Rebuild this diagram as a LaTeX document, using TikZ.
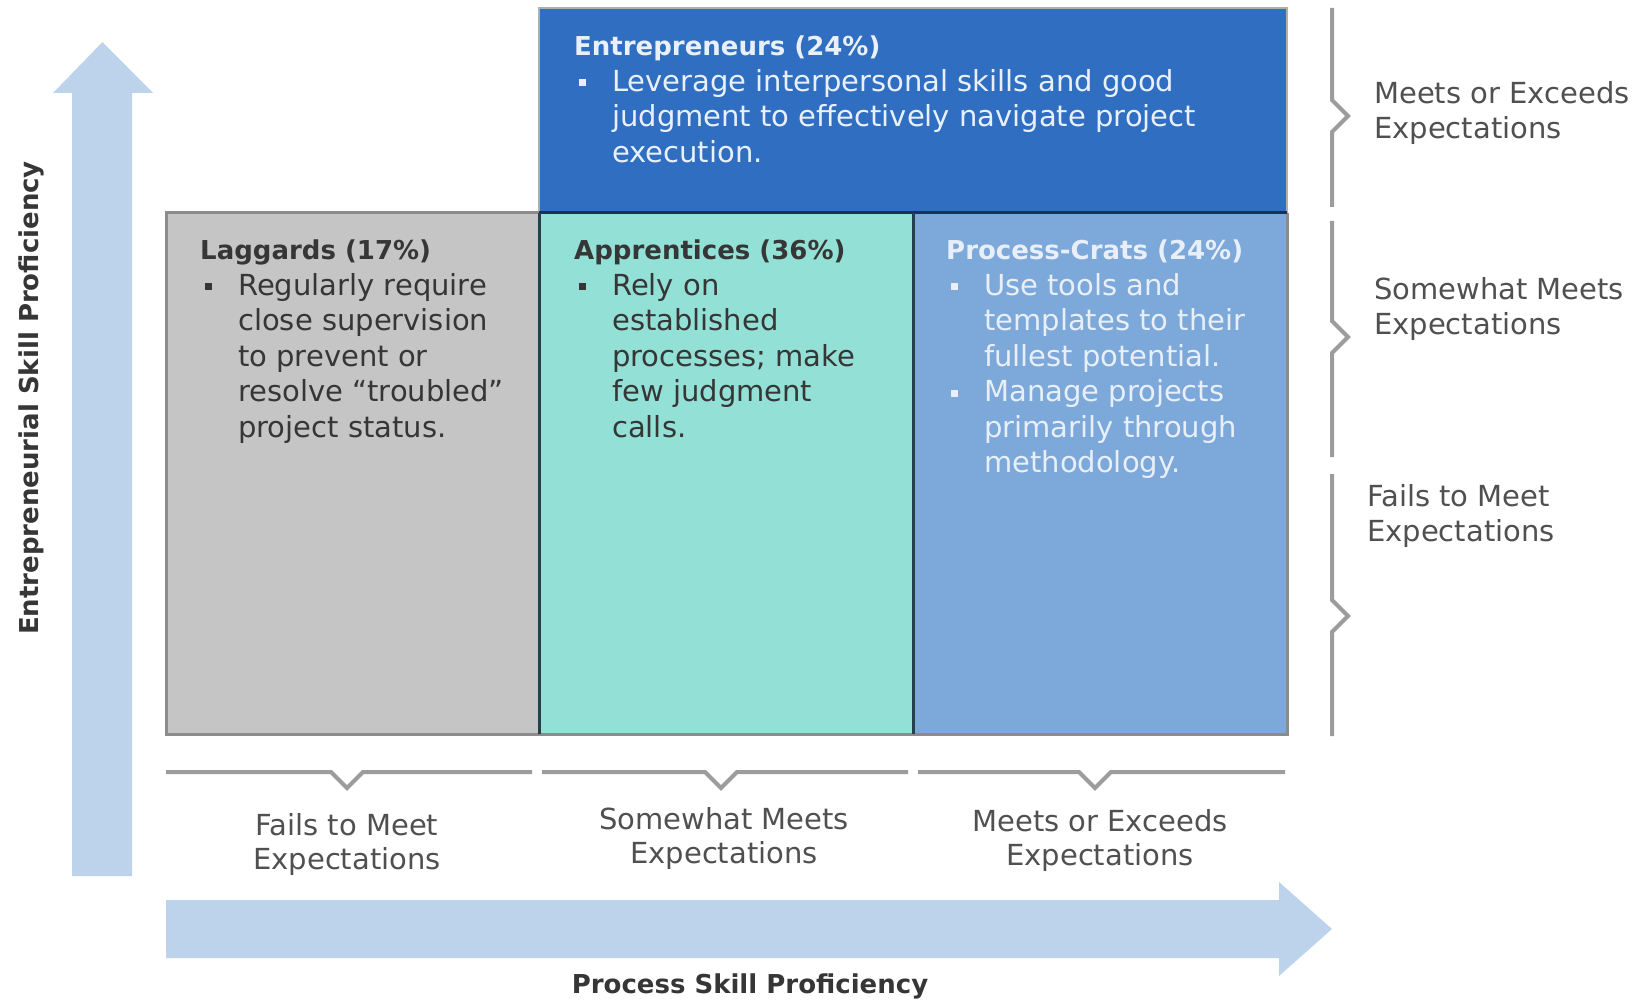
\documentclass[tikz,border=0pt]{standalone}
\usepackage{fontspec}
\setmainfont{DejaVu Sans}
\definecolor{entblue}{HTML}{2F6EC1}
\definecolor{appteal}{HTML}{93E0D7}
\definecolor{pcblue}{HTML}{7CA8DA}
\definecolor{laggray}{HTML}{C5C5C5}
\definecolor{arrowblue}{HTML}{BDD3EC}
\definecolor{brk}{HTML}{9C9C9C}
\definecolor{lbl}{HTML}{505050}
\definecolor{dtext}{HTML}{363636}
\definecolor{darkline}{HTML}{24404A}
\definecolor{navyline}{HTML}{1B2F5C}
\definecolor{edgegray}{HTML}{8C8C8C}
\newcommand{\hd}[1]{\multicolumn{2}{@{}l@{}}{\fontsize{26}{35.5}\selectfont\bfseries #1}}
\newcommand{\bsq}{\makebox[38pt][l]{\hspace*{5pt}\rule[5pt]{7pt}{7pt}}}
\begin{document}
\begin{tikzpicture}[x=1pt,y=-1pt,
  cell/.style={draw=none,inner sep=0,outer sep=0,anchor=north west},
  txt/.style={anchor=base west,inner sep=0,font=\fontsize{29}{35.5}\selectfont},
  lab/.style={inner sep=0,align=left,text=lbl,font=\fontsize{29}{35.5}\selectfont},
  clab/.style={inner sep=0,align=center,text=lbl,font=\fontsize{29}{34}\selectfont},
  brace/.style={draw=brk,line width=4pt,line join=miter},
  axis/.style={fill=arrowblue}]
\useasboundingbox (0,0) rectangle (1651,1000);
\fill[white] (0,0) rectangle (1651,1000);

% axis arrows
\fill[axis] (72,876) -- (72,93) -- (53,93) -- (102.5,42) -- (153,93) -- (132,93) -- (132,876) -- cycle;
\fill[axis] (166,900) -- (1279,900) -- (1279,882) -- (1332,929) -- (1279,976) -- (1279,958) -- (166,958) -- cycle;

% boxes
\node[cell,fill=entblue,minimum width=748pt,minimum height=205pt] (ent) at (539,8) {};
\node[cell,fill=laggray,minimum width=373pt,minimum height=521pt] (lag) at (166,213) {};
\node[cell,fill=appteal,minimum width=374pt,minimum height=521pt] (app) at (539,213) {};
\node[cell,fill=pcblue,minimum width=374pt,minimum height=521pt] (pc) at (913,213) {};

% borders
\draw[draw=edgegray!70,line width=2pt] (ent.south west) -- (ent.north west) -- (ent.north east) -- (ent.south east);
\draw[draw=edgegray,line width=3pt] (lag.north east) -- (lag.north west) -- (lag.south west) -- (pc.south east) -- (pc.north east);
\draw[draw=navyline,line width=3pt] (app.north west) -- (pc.north east);
\draw[draw=darkline,line width=3pt] (lag.north east) -- (lag.south east);
\draw[draw=darkline,line width=3pt] (app.north east) -- (app.south east);

% box texts
\node[txt,text=white!90!entblue] (entT) at (574,56) {\begin{tabular}[t]{@{}l@{}l@{}}\hd{Entrepreneurs (24\%)}\\
\bsq & Leverage interpersonal skills and good\\
 & judgment to effectively navigate project\\
 & execution.\end{tabular}};
\node[txt,text=dtext] (lagT) at (200,260) {\begin{tabular}[t]{@{}l@{}l@{}}\hd{Laggards (17\%)}\\
\bsq & Regularly require\\
 & close supervision\\
 & to prevent or\\
 & resolve “troubled”\\
 & project status.\end{tabular}};
\node[txt,text=dtext] (appT) at (574,260) {\begin{tabular}[t]{@{}l@{}l@{}}\hd{Apprentices (36\%)}\\
\bsq & Rely on\\
 & established\\
 & processes; make\\
 & few judgment\\
 & calls.\end{tabular}};
\node[txt,text=white!82!pcblue] (pcT) at (946,260) {\begin{tabular}[t]{@{}l@{}l@{}}\hd{Process-Crats (24\%)}\\
\bsq & Use tools and\\
 & templates to their\\
 & fullest potential.\\
\bsq & Manage projects\\
 & primarily through\\
 & methodology.\end{tabular}};

% right braces
\draw[brace] (1332,8) -- (1332,100) -- (1348,116) -- (1332,132) -- (1332,207);
\draw[brace] (1332,221) -- (1332,321) -- (1348,337) -- (1332,353) -- (1332,457);
\draw[brace] (1332,474) -- (1332,600) -- (1348,616) -- (1332,632) -- (1332,736);
\node[lab,anchor=west] (r1) at (1374,113) {Meets or Exceeds\\Expectations};
\node[lab,anchor=west] (r2) at (1374,309) {Somewhat Meets\\Expectations};
\node[lab,anchor=west] (r3) at (1367,516) {Fails to Meet\\Expectations};

% bottom braces
\draw[brace] (166,772) -- (331,772) -- (347,788) -- (363,772) -- (532,772);
\draw[brace] (542,772) -- (705,772) -- (721,788) -- (737,772) -- (908,772);
\draw[brace] (918,772) -- (1079,772) -- (1095,788) -- (1111,772) -- (1285,772);
\node[clab] (b1) at (347,844) {Fails to Meet\\Expectations};
\node[clab] (b2) at (724,838) {Somewhat Meets\\Expectations};
\node[clab] (b3) at (1100,840) {Meets or Exceeds\\Expectations};

% axis titles
\node[inner sep=0,text=dtext,font=\fontsize{26}{30}\selectfont\bfseries] (xt) at (750,986) {Process Skill Proficiency};
\node[inner sep=0,rotate=90,text=dtext,font=\fontsize{26}{30}\selectfont\bfseries] (yt) at (31,398) {Entrepreneurial Skill Proficiency};
\end{tikzpicture}
\end{document}
